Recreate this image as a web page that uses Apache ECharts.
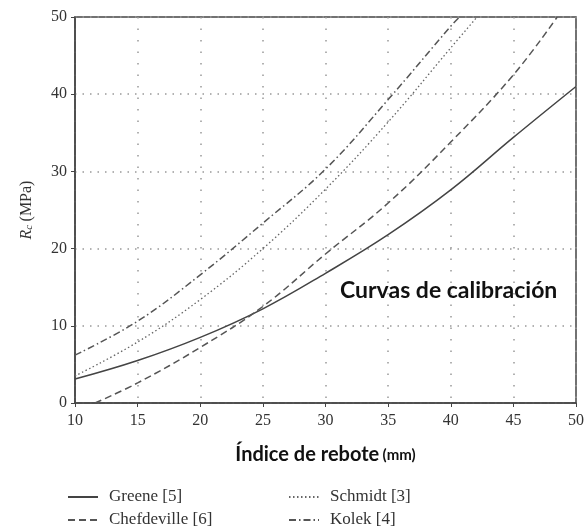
<!DOCTYPE html>
<html>
<head>
<meta charset="utf-8">
<script src="https://cdn.jsdelivr.net/npm/echarts@6/dist/echarts.min.js"></script>
<style>html,body{margin:0;padding:0;background:#fff}#c{width:587px;height:531px}</style>
</head>
<body>
<div id="c"></div>
<script>
var xTicks = [10, 15, 20, 25, 30, 35, 40, 45, 50];
var yTicks = [0, 10, 20, 30, 40, 50];

var greeneX = [10, 15, 20, 25, 30, 35, 40, 45, 50];
var greeneY = [3.1, 5.5, 8.5, 12.2, 16.8, 21.8, 27.6, 34.4, 41.0];

var chefX = [11.6, 15, 20, 25, 30, 35, 40, 45, 48.5];
var chefY = [0, 2.6, 7.2, 12.5, 19.3, 25.9, 33.8, 42.5, 50];

var schmidtX = [10, 15, 20, 25, 30, 35, 40, 42.1];
var schmidtY = [3.5, 7.9, 13.4, 20.0, 27.7, 36.4, 46.0, 50];

var kolekX = [10, 15, 20, 25, 30, 35, 40, 40.7];
var kolekY = [6.2, 10.6, 16.6, 23.3, 30.3, 39.3, 48.8, 50];

function pairs(xs, ys) { return xs.map(function (x, i) { return [x, ys[i]]; }); }

var serif = '"Liberation Serif", "DejaVu Serif", serif';
var sans = 'Lato, "Open Sans", sans-serif';

var legendBase = {
  orient: 'vertical', top: 488, height: 43, padding: 0, itemWidth: 30, itemHeight: 14, itemGap: 5,
  itemStyle: { opacity: 0 },
  textStyle: { fontFamily: serif, fontSize: 17, lineHeight: 18, color: '#333', padding: [0, 0, 0, 6] }
};

var chart = echarts.init(document.getElementById('c'));
chart.setOption({
  animation: false,
  backgroundColor: '#fff',
  grid: { left: 75, right: 11, top: 17, bottom: 128, show: true, borderColor: '#444', borderWidth: 1.5, backgroundColor: 'transparent' },
  xAxis: {
    type: 'value', min: 10, max: 50, interval: 5,
    axisLine: { lineStyle: { color: '#444', width: 1.5 } },
    axisTick: { show: true, length: 4, lineStyle: { color: '#444' } },
    axisLabel: { color: '#333', fontFamily: serif, fontSize: 16, margin: 10 },
    splitLine: { show: true, lineStyle: { color: '#999', type: [1.5, 10], width: 1.5 } },
    name: '{b|Índice de rebote} {s|(mm)}',
    nameLocation: 'middle', nameGap: 42,
    nameTextStyle: { rich: {
      b: { fontFamily: sans, fontWeight: 'bold', fontSize: 20, color: '#111' },
      s: { fontFamily: sans, fontWeight: 'bold', fontSize: 15, color: '#111' }
    } }
  },
  yAxis: {
    type: 'value', min: 0, max: 50, interval: 10,
    axisLine: { show: true, lineStyle: { color: '#444', width: 1.5 } },
    axisTick: { show: true, length: 4, lineStyle: { color: '#444' } },
    axisLabel: { color: '#333', fontFamily: serif, fontSize: 16, margin: 8 },
    splitLine: { show: true, lineStyle: { color: '#999', type: [1.5, 6], width: 1.5 } },
    name: '{r|R}{c|c} {n|(MPa)}',
    nameLocation: 'middle', nameGap: 40, nameRotate: 90,
    nameTextStyle: { rich: {
      r: { fontFamily: serif, fontStyle: 'italic', fontSize: 16, color: '#333' },
      c: { fontFamily: serif, fontStyle: 'italic', fontSize: 11, color: '#333', verticalAlign: 'bottom', padding: [6, 0, 0, 0] },
      n: { fontFamily: serif, fontSize: 16, color: '#333' }
    } }
  },
  legend: [
    Object.assign({}, legendBase, { left: 67, data: ['Greene [5]', 'Chefdeville [6]'] }),
    Object.assign({}, legendBase, { left: 288, data: ['Schmidt [3]', 'Kolek [4]'] })
  ],
  graphic: [
    { type: 'text', left: 340, top: 279, style: { text: 'Curvas de calibración', fontFamily: sans, fontWeight: 'bold', fontSize: 23, fill: '#111' } }
  ],
  series: [
    { name: 'Greene [5]', type: 'line', data: pairs(greeneX, greeneY), smooth: 0.4, symbol: 'none',
      lineStyle: { color: '#444', width: 1.5, type: 'solid' }, itemStyle: { color: '#444' } },
    { name: 'Chefdeville [6]', type: 'line', data: pairs(chefX, chefY), smooth: 0.4, symbol: 'none',
      lineStyle: { color: '#555', width: 1.5, type: [7, 4] }, itemStyle: { color: '#555' } },
    { name: 'Schmidt [3]', type: 'line', data: pairs(schmidtX, schmidtY), smooth: 0.4, symbol: 'none',
      lineStyle: { color: '#666', width: 1.3, type: [1.5, 2.5] }, itemStyle: { color: '#666' } },
    { name: 'Kolek [4]', type: 'line', data: pairs(kolekX, kolekY), smooth: 0.4, symbol: 'none',
      lineStyle: { color: '#555', width: 1.5, type: [7, 3, 1.5, 3] }, itemStyle: { color: '#555' } }
  ]
});
</script>
</body>
</html>
